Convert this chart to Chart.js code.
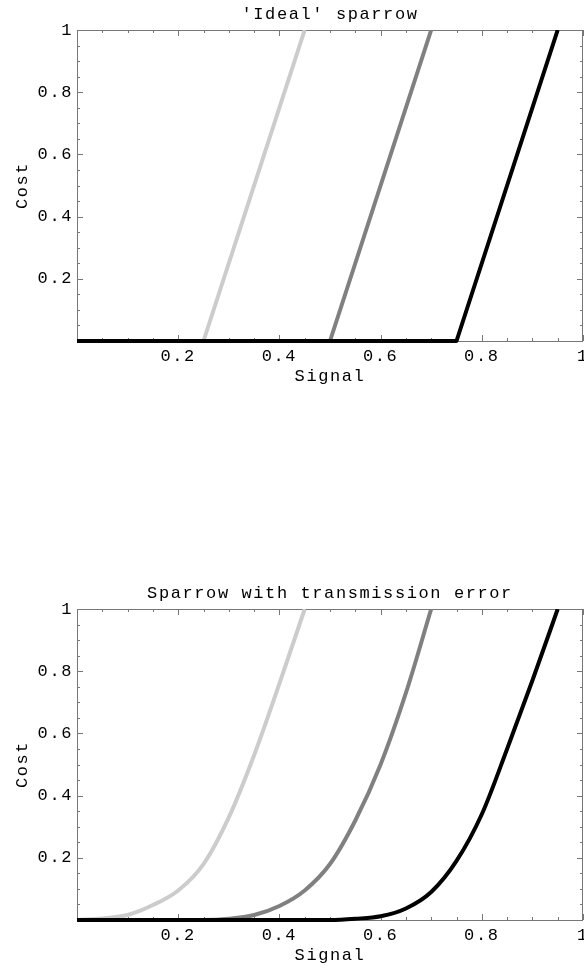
<!DOCTYPE html>
<html lang="en">
<head>
    <meta charset="UTF-8">
    <title>Sparrow signal cost</title>
    <style>
        body { background: #fff; margin: 0; width: 584px; height: 968px; overflow: hidden; }
        .panel { position: absolute; left: 0; width: 584px; height: 389px; }
        #topPanel { top: 0; }
        #bottomPanel { top: 579px; }
    </style>
</head>
<body>
    <div class="panel" id="topPanel"><canvas id="idealChart" width="584" height="389"></canvas></div>
    <div class="panel" id="bottomPanel"><canvas id="errorChart" width="584" height="389"></canvas></div>

    <script src="https://cdn.jsdelivr.net/npm/chart.js"></script>
    <script>
        // 'Ideal' sparrow: three thresholds, straight ramps
        const idealLightX = [0, 0.25, 0.45];
        const idealLightY = [0, 0, 1];
        const idealGrayX = [0, 0.5, 0.7];
        const idealGrayY = [0, 0, 1];
        const idealBlackX = [0, 0.75, 0.95];
        const idealBlackY = [0, 0, 1];

        // Sparrow with transmission error: smoothed curves
        const errLightX = [0, 0.05, 0.1, 0.15, 0.2, 0.25, 0.3, 0.35, 0.4, 0.45];
        const errLightY = [0, 0.005, 0.016, 0.048, 0.095, 0.18, 0.33, 0.53, 0.76, 1];
        const errGrayX = [0, 0.25, 0.3, 0.35, 0.4, 0.45, 0.5, 0.55, 0.6, 0.65, 0.7];
        const errGrayY = [0, 0, 0.004, 0.016, 0.045, 0.095, 0.18, 0.32, 0.5, 0.73, 1];
        const errBlackX = [0, 0.5, 0.55, 0.6, 0.65, 0.7, 0.75, 0.8, 0.85, 0.9, 0.95];
        const errBlackY = [0, 0, 0.004, 0.012, 0.037, 0.09, 0.19, 0.34, 0.55, 0.77, 1];

        const tickLabels = [0.2, 0.4, 0.6, 0.8, 1];

        const FONT = "'Liberation Mono', 'Courier New', monospace";
        Chart.defaults.color = "#000";
        Chart.defaults.font.family = FONT;
        Chart.defaults.font.size = 17;

        function pts(xs, ys) {
            return xs.map((x, i) => ({ x: x, y: ys[i] }));
        }

        function line(xs, ys, color, smooth) {
            return {
                data: pts(xs, ys),
                borderColor: color,
                borderWidth: 4,
                pointRadius: 0,
                fill: false,
                cubicInterpolationMode: smooth ? "monotone" : "default",
                tension: 0,
                borderJoinStyle: "round",
                clip: { left: 0, top: 0, right: 0, bottom: 3 }
            };
        }

        // wide courier-like spacing for all text
        const spacingPlugin = {
            id: "spacing",
            beforeDraw(chart) { chart.ctx.letterSpacing = "1.6px"; }
        };

        // Mathematica-style frame with inward ticks on all four sides
        const framePlugin = {
            id: "frame",
            beforeDatasetsDraw(chart) {
                const { ctx, chartArea: a, scales } = chart;
                ctx.save();
                ctx.strokeStyle = "#777";
                ctx.lineWidth = 1;
                ctx.strokeRect(a.left + 0.5, a.top + 0.5, a.right - a.left - 1, a.bottom - a.top);
                ctx.beginPath();
                for (let i = 0; i <= 20; i++) {
                    const len = i % 4 === 0 ? 6 : 3;
                    const px = Math.round(scales.x.getPixelForValue(i * 0.05)) + 0.5;
                    const py = Math.round(scales.y.getPixelForValue(i * 0.05)) + 0.5;
                    ctx.moveTo(px, a.bottom); ctx.lineTo(px, a.bottom - len);
                    ctx.moveTo(px, a.top); ctx.lineTo(px, a.top + len);
                    ctx.moveTo(a.left, py); ctx.lineTo(a.left + len, py);
                    ctx.moveTo(a.right, py); ctx.lineTo(a.right - len, py);
                }
                ctx.stroke();
                ctx.restore();
            }
        };

        function makeChart(id, title, datasets) {
            new Chart(document.getElementById(id), {
                type: "line",
                data: { datasets: datasets },
                options: {
                    responsive: false,
                    animation: false,
                    layout: { padding: { left: 0, right: 1, top: 0, bottom: 0 } },
                    plugins: {
                        legend: { display: false },
                        tooltip: { enabled: false },
                        title: {
                            display: true,
                            fullSize: false,
                            text: title,
                            color: "#000",
                            font: { family: FONT, size: 17, weight: "normal" },
                            padding: { top: 4.5, bottom: 5.1 }
                        }
                    },
                    scales: {
                        x: {
                            type: "linear",
                            min: 0, max: 1,
                            grid: { display: false, drawTicks: false },
                            border: { display: false },
                            afterBuildTicks: s => { s.ticks = tickLabels.map(v => ({ value: v })); },
                            ticks: { padding: 5, maxRotation: 0, callback: v => String(v) },
                            title: { display: true, text: "Signal", padding: { top: 0, bottom: 2 } },
                            afterFit: s => { s.height = 48; s.paddingLeft = 0; s.paddingRight = 0; }
                        },
                        y: {
                            type: "linear",
                            min: 0, max: 1,
                            grid: { display: false, drawTicks: false },
                            border: { display: false },
                            afterBuildTicks: s => { s.ticks = tickLabels.map(v => ({ value: v })); },
                            ticks: { padding: 4, callback: v => String(v) },
                            title: { display: true, text: "Cost", padding: { top: 12, bottom: 0 } },
                            afterFit: s => { s.width = 77; s.paddingTop = 0; s.paddingBottom = 0; }
                        }
                    }
                },
                plugins: [spacingPlugin, framePlugin]
            });
        }

        makeChart("idealChart", "'Ideal' sparrow", [
            line(idealBlackX, idealBlackY, "#000", false),
            line(idealGrayX, idealGrayY, "#808080", false),
            line(idealLightX, idealLightY, "#cccccc", false)
        ]);

        makeChart("errorChart", "Sparrow with transmission error", [
            line(errBlackX, errBlackY, "#000", true),
            line(errGrayX, errGrayY, "#808080", true),
            line(errLightX, errLightY, "#cccccc", true)
        ]);
    </script>
</body>
</html>
